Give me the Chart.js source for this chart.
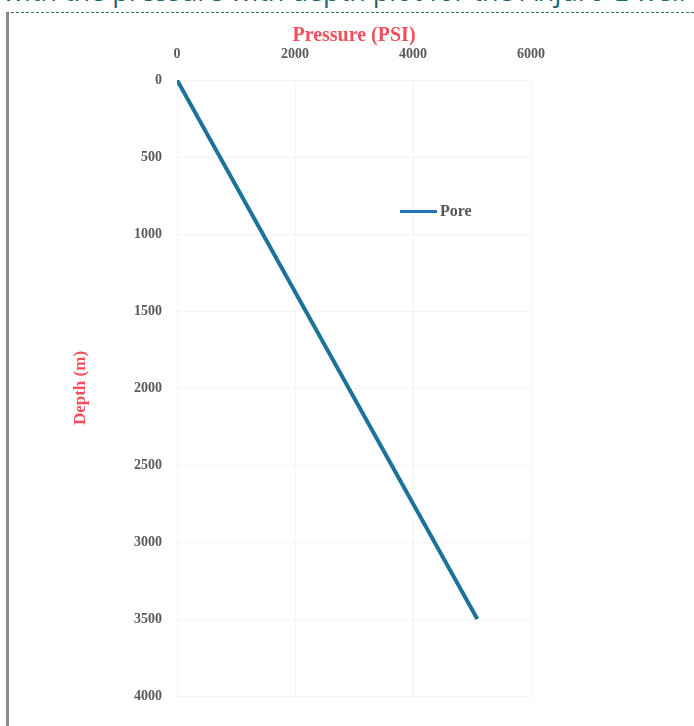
<!DOCTYPE html>
<html lang="en">
<head>
  <meta charset="UTF-8">
  <title>Pore Pressure vs Depth</title>
  <script src="https://cdn.jsdelivr.net/npm/chart.js"></script>
  <style>
    html, body { margin: 0; padding: 0; background: #fff; overflow: hidden; }
    .page { position: relative; width: 694px; height: 726px; overflow: hidden; }
    .doc-title {
      position: absolute; left: 3px; top: -23px; white-space: nowrap;
      font-family: "Open Sans", sans-serif; font-size: 27px; line-height: 27px;
      color: #1f6675;
    }
    .frame {
      position: absolute; left: 6px; top: 12px; right: 0; bottom: 0;
      border-top: 1px dashed #3d6c7a; border-left: 3px solid #8c8c8c;
    }
    .chart-box { position: absolute; left: 0; top: 0; width: 694px; height: 726px; }
    .legend {
      position: absolute; left: 400px; top: 202px; display: flex; align-items: center;
      font-family: "Liberation Serif", serif; font-weight: bold; font-size: 16px; color: #555;
    }
    .legend .line { width: 37px; height: 3px; background: #2272b4; margin-right: 3px; }
  </style>
</head>
<body>
  <div class="page">
    <div class="doc-title">with the pressure with depth plot for the Anjuro-E well</div>
    <div class="frame"></div>
    <div class="chart-box">
      <canvas id="depthChart" width="694" height="726"></canvas>
    </div>
    <div class="legend"><span class="line"></span>Pore</div>
  </div>

  <script>
    // pore pressure profile: pressure (psi) against depth (m)
    const porePressure = [0, 5090];
    const poreDepth = [0, 3500];
    const pressureTicks = [0, 2000, 4000, 6000];
    const depthTicks = [0, 500, 1000, 1500, 2000, 2500, 3000, 3500, 4000];

    const points = porePressure.map((p, i) => ({ x: p, y: poreDepth[i] }));

    const tickFont = { family: 'Liberation Serif', size: 14, weight: 'bold' };

    new Chart(document.getElementById('depthChart'), {
      type: 'scatter',
      data: {
        datasets: [{
          label: 'Pore',
          data: points,
          showLine: true,
          borderColor: '#1b7399',
          backgroundColor: '#1b7399',
          borderWidth: 4,
          pointRadius: 0
        }]
      },
      options: {
        responsive: false,
        animation: false,
        layout: { padding: { left: 0, top: 0, right: 163, bottom: 30 } },
        plugins: {
          legend: { display: false },
          tooltip: { enabled: false }
        },
        scales: {
          x: {
            type: 'linear',
            position: 'top',
            min: 0,
            max: 6000,
            afterBuildTicks: axis => { axis.ticks = pressureTicks.map(v => ({ value: v })); },
            afterFit: axis => { axis.height = 80; },
            grid: { color: '#f4f4f4', drawTicks: false },
            border: { display: false },
            ticks: { color: '#5a5a5a', font: tickFont, padding: 17, maxRotation: 0, callback: v => String(v) },
            title: {
              display: true,
              text: 'Pressure (PSI)',
              color: '#f0505c',
              font: { family: 'Liberation Serif', size: 20, weight: 'bold' },
              padding: { top: 24, bottom: 0 }
            }
          },
          y: {
            type: 'linear',
            reverse: true,
            min: 0,
            max: 4000,
            afterBuildTicks: axis => { axis.ticks = depthTicks.map(v => ({ value: v })); },
            afterFit: axis => { axis.width = 177; },
            grid: { color: '#f4f4f4', drawTicks: false },
            border: { display: false },
            ticks: { color: '#5a5a5a', font: tickFont, padding: 15, callback: v => String(v) },
            title: {
              display: true,
              text: 'Depth (m)',
              color: '#f0505c',
              font: { family: 'Liberation Serif', size: 17, weight: 'bold' },
              padding: { top: 70, bottom: 0 }
            }
          }
        }
      }
    });
  </script>
</body>
</html>
